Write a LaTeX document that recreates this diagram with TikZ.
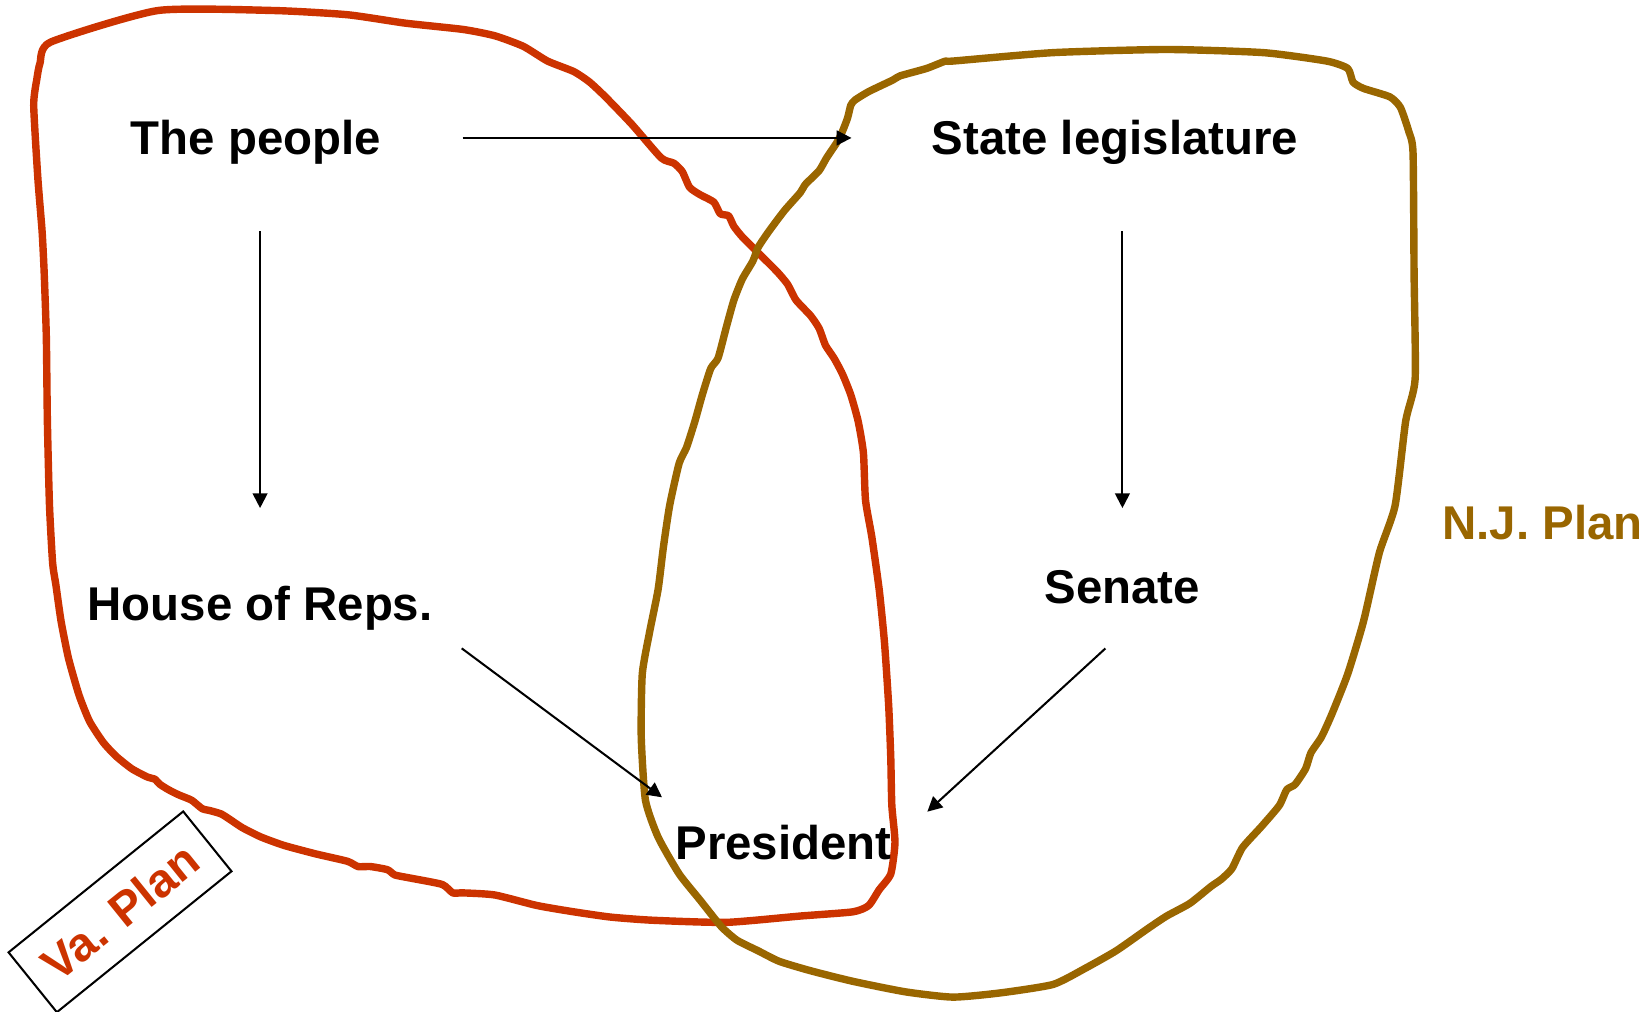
\documentclass[tikz,border=0pt]{standalone}
\usepackage{fontspec}
\setmainfont{Liberation Sans}
\usepackage{tikz}
\usetikzlibrary{arrows.meta, positioning}
\definecolor{vared}{RGB}{204,51,0}
\definecolor{njgold}{RGB}{153,102,0}

\begin{document}
\begin{tikzpicture}[
  x=0.01cm, y=-0.01cm,
  lbl/.style={font=\fontsize{12.8}{15}\selectfont\bfseries,
    text height=0.32cm, text depth=0pt},
  ar/.style={-{Triangle[length=0.14cm,width=0.14cm]}, line width=0.55pt},
  plan/.style={line width=2pt, line join=round, line cap=round}
]
  \useasboundingbox (0,0) rectangle (1568,961);

  % Va. plan outline
  \draw[plan, draw=vared] plot[smooth cycle, tension=0.35] coordinates {
    (48,40) (150,10) (260,10) (330,14) (385,22) (440,28) (470,34) (497,44)
    (520,58) (545,68) (560,78) (575,92) (600,118) (628,150) (640,155)
    (648,163) (655,178) (665,185) (678,192) (684,203) (692,205) (697,215)
    (705,225) (720,240) (738,258) (748,270) (756,285) (770,300) (778,312)
    (784,328) (792,340) (800,355) (808,375) (815,400) (820,430) (822,475)
    (828,510) (835,560) (840,610) (844,670) (846,720) (847,765) (850,800)
    (846,830) (835,845) (825,860) (810,866) (760,870) (690,876) (620,874)
    (580,871) (545,866) (510,860) (470,850) (440,848) (430,848) (420,840)
    (390,834) (375,831) (368,826) (352,823) (340,823) (330,818) (300,811)
    (270,803) (248,795) (230,786) (218,778) (210,773) (200,770) (192,768)
    (182,760) (170,755) (160,750) (152,745) (147,740) (140,738) (125,730)
    (110,718) (98,705) (85,685) (75,660) (65,625) (58,590) (53,555)
    (50,535) (47,480) (45,400) (44,320) (42,260) (40,220) (36,170)
    (32,100) (35,75) (38,60)};

  % N.J. plan outline
  \draw[plan, draw=njgold] plot[smooth cycle, tension=0.35] coordinates {
    (808,100) (812,95) (825,87) (848,76) (855,72) (880,65) (898,58)
    (905,58) (1000,50) (1108,47) (1200,50) (1260,58) (1280,65) (1285,78)
    (1295,84) (1320,92) (1330,102) (1338,125) (1342,145) (1343,260)
    (1344,360) (1335,400) (1325,480) (1310,525) (1295,590) (1280,640)
    (1265,678) (1255,700) (1245,715) (1240,730) (1230,745) (1222,750)
    (1215,765) (1198,785) (1180,805) (1170,825) (1160,835) (1150,842)
    (1130,858) (1108,870) (1090,882) (1060,903) (1030,920) (1000,935)
    (950,943) (905,947) (860,942) (810,932) (770,922) (740,913) (720,903)
    (700,893) (685,880) (665,855) (645,830) (625,795) (613,760) (609,700)
    (610,640) (617,600) (625,560) (630,520) (636,480) (645,440) (652,425)
    (660,400) (667,375) (675,350) (682,340) (690,310) (697,285) (705,265)
    (715,248) (720,235) (730,220) (745,200) (760,183) (765,175) (778,162)
    (785,150) (795,135) (800,125) (805,112)};

  \node[lbl] (people) at (243,131)  {The people};
  \node[lbl] (state)  at (1059,131) {State legislature};
  \node[lbl] (house)  at (247,573)  {House of Reps.};
  \node[lbl] (senate) at (1066,557) {Senate};
  \node[lbl] (pres)   at (744,800)  {President};

  \node[lbl, text=njgold] (njplan) at (1465,496) {N.J. Plan};
  \node[lbl, text=vared, draw=black, line width=0.55pt, rotate=38.9,
    text height=, text depth=,
    minimum width=2.13cm, minimum height=0.73cm] (vaplan) at (114,866) {Va. Plan};

  \draw[ar, shorten <=0.65cm, shorten >=0.64cm] (people) -- (state);
  \draw[ar, shorten <=0.60cm, shorten >=0.62cm] (people.south -| house.north) -- (house.north);
  \draw[ar, shorten <=0.60cm, shorten >=0.46cm] (state.south -| senate.north) -- (senate.north);
  \draw[ar, shorten <=0.24cm, shorten >=0.24cm]
    ([xshift=-0.04cm]house.south east) -- ([xshift=0.19cm]pres.north west);
  \draw[ar, shorten <=0.45cm, shorten >=0.01cm]
    ([xshift=0.17cm]senate.south) -- ([xshift=0.21cm]pres.north east);
\end{tikzpicture}
\end{document}
